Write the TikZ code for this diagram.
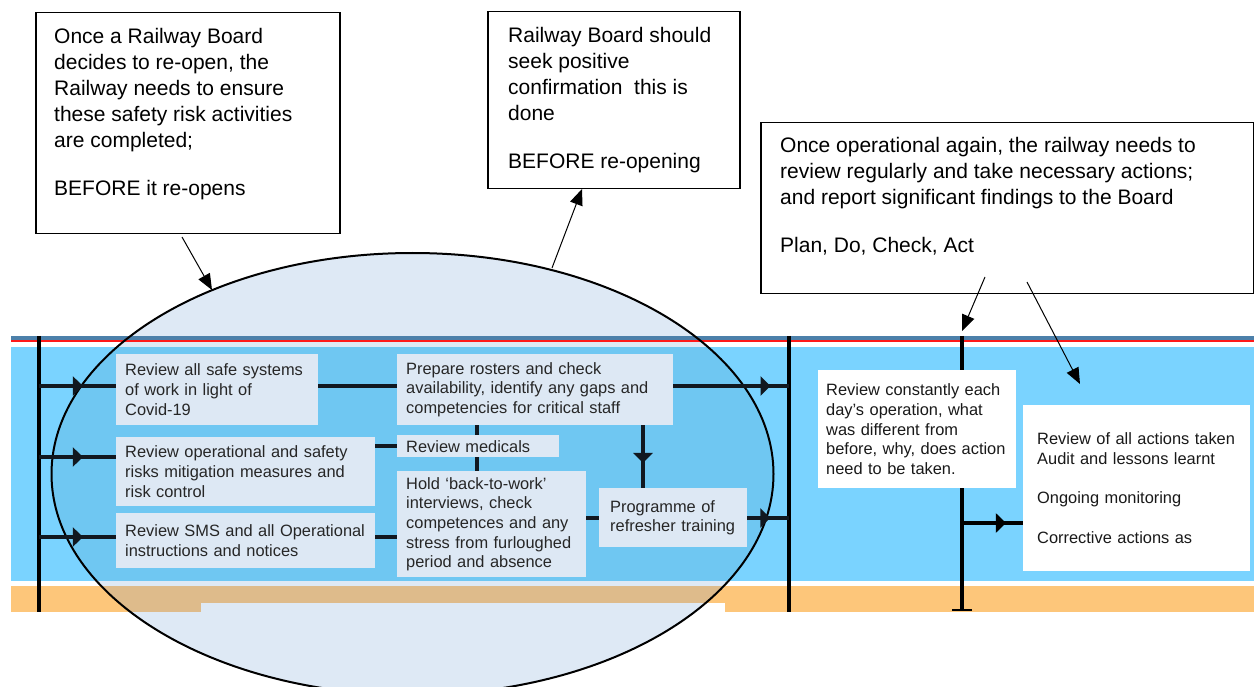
\documentclass[tikz,border=0pt]{standalone}
\usepackage{fontspec}
\setmainfont{Liberation Sans}
\usetikzlibrary{arrows.meta,decorations.markings,calc}

\definecolor{bandblue}{HTML}{7AD3FF}
\definecolor{bandblueov}{HTML}{6FC7F2}
\definecolor{bandorange}{HTML}{FDC67A}
\definecolor{bandorangeov}{HTML}{DEBB8B}
\definecolor{steel}{HTML}{4C80AA}
\definecolor{railred}{HTML}{FF1A1A}
\definecolor{zonefill}{HTML}{DEE9F5}
\definecolor{taskfill}{HTML}{DDE8F4}
\definecolor{inktext}{HTML}{262626}
\definecolor{wire}{HTML}{111820}

\pgfdeclarelayer{back}
\pgfdeclarelayer{wires}
\pgfsetlayers{back,wires,main}

\begin{document}
\begin{tikzpicture}[x=1pt,y=-1pt,
  task/.style={fill=taskfill, text=inktext, anchor=north west, align=left,
    inner xsep=9pt, inner ysep=0pt, font=\fontsize{16.4}{19.7}\selectfont},
  note/.style={fill=white, text=black!90, anchor=north west, align=left,
    inner ysep=0pt, font=\fontsize{16.4}{19.7}\selectfont},
  callout/.style={draw=black, line width=1.5pt, fill=white, anchor=north west, inner sep=0pt},
  callouttext/.style={anchor=north west, align=left, inner sep=0pt,
    font=\fontsize{21}{26}\selectfont},
  wirepath/.style={draw=wire, line width=3.6pt},
  railbar/.style={draw=black, line width=4pt},
  midarrow/.style={postaction={decorate}, decoration={markings,
    mark=at position #1 with {\arrow{Triangle[length=10pt,width=19pt]}}}},
  pointer/.style={draw=black, line width=1pt, -{Triangle[length=16pt,width=13pt]}},
]
\useasboundingbox (0,0) rectangle (1254,687);
\clip (0,0) rectangle (1254,687);

% ---------------- track band and the highlighted zone ----------------
\begin{pgfonlayer}{back}
  \fill[white] (0,0) rectangle (1254,687);
  \fill[bandblue] (11,347) rectangle (1254,581);
  \fill[bandorange] (11,586) rectangle (1254,612);
  \fill[white] (201,603) rectangle (725,612);
  \begin{scope}
    \clip (412.5,474) ellipse [x radius=361pt, y radius=221pt];
    \fill[zonefill] (0,0) rectangle (1254,687);
    \fill[bandblueov] (11,347) rectangle (1254,581);
    \fill[bandorangeov] (11,586) rectangle (1254,612);
    \fill[zonefill] (201,603) rectangle (725,612);
  \end{scope}
  \fill[steel] (11,336) rectangle (1254,340);
  \fill[railred] (11,340) rectangle (1254,342);
  \draw[line width=2pt] (412.5,474) ellipse [x radius=361pt, y radius=221pt];
\end{pgfonlayer}

% ---------------- rails (vertical bars) ----------------
\coordinate (Ltop) at (39,336);  \coordinate (Lbot) at (39,612);
\coordinate (Mtop) at (789,336); \coordinate (Mbot) at (789,612);
\coordinate (Rtop) at (962,336); \coordinate (Rbot) at (962,611);
\coordinate (L1) at (39,386); \coordinate (L2) at (39,457); \coordinate (L3) at (39,537);
\coordinate (M1) at (789,386); \coordinate (M2) at (789,518);
\coordinate (R1) at (962,523);

% ---------------- activity boxes ----------------
\node[task, text width=184pt, minimum height=71pt] (b1) at (116,354)
  {Review all safe systems\\of work in light of\\Covid-19};
\node[task, text width=241pt, minimum height=69pt] (b2) at (116,437)
  {Review operational and safety\\risks mitigation measures and\\risk control};
\node[task, text width=241pt, minimum height=55pt] (b3) at (116,513)
  {Review SMS and all Operational\\instructions and notices};
\node[task, text width=258pt, minimum height=71pt] (b4) at (397,354)
  {Prepare rosters and check\\availability, identify any gaps and\\competencies for critical staff};
\node[task, text width=144pt, minimum height=22pt] (b5) at (397,435)
  {Review medicals};
\node[task, text width=171pt, minimum height=106pt] (b6) at (397,471)
  {Hold ‘back-to-work’\\interviews, check\\competences and any\\stress from furloughed\\period and absence};
\node[task, inner xsep=11pt, text width=126pt, minimum height=59pt] (b7) at (599,488)
  {Programme of\\refresher training};

\node[note, inner xsep=8pt, text width=182pt, minimum height=118pt] (r1) at (818,370)
  {Review constantly each\\day’s operation, what\\was different from\\before, why, does action\\need to be taken.};
\node[note, inner xsep=14pt, text width=199pt, minimum height=166pt] (r2) at (1023,405)
  {Review of all actions taken\\Audit and lessons learnt\\[19.7pt]Ongoing monitoring\\[19.7pt]Corrective actions as};

% ---------------- connectors ----------------
\begin{pgfonlayer}{wires}
  \draw[railbar] (Ltop) -- (Lbot);
  \draw[railbar] (Mtop) -- (Mbot);
  \draw[railbar, -{Bar[width=20pt,line width=2pt]}] (Rtop) -- (Rbot);

  \draw[wirepath, midarrow=0.57] (L1) -- (L1 -| b1.west);
  \draw[wirepath, midarrow=0.57] (L2) -- (L2 -| b2.west);
  \draw[wirepath, midarrow=0.57] (L3) -- (L3 -| b3.west);
  \draw[wirepath] (b1.east |- L1) -- (b4.west |- L1);
  \draw[wirepath] (b2.east |- b5.west) -- (b5.west);
  \draw[wirepath] (b3.east |- L3) -- (b6.west |- L3);
  \draw[wirepath] ([xshift=80pt]b4.south west) -- ([xshift=80pt]b6.north west);
  \draw[wirepath, midarrow=0.6] ([xshift=246pt]b4.south west) -- ([xshift=246pt]b4.south west |- b7.north);
  \draw[wirepath] (b6.east |- b7.west) -- (b7.west);
  \draw[wirepath, midarrow=0.84] (b4.east |- M1) -- (M1);
  \draw[wirepath, midarrow=0.55] (b7.east |- M2) -- (M2);
  \draw[draw=black, line width=3.6pt, midarrow=0.72] (R1) -- (R1 -| r2.west);
\end{pgfonlayer}

% ---------------- callouts ----------------
\node[callout, minimum width=304pt, minimum height=221pt] (boxA) at (35,12) {};
\node[callouttext] (txtA) at (54,27.7)
  {Once a Railway Board\\decides to re-open, the\\Railway needs to ensure\\these safety risk activities\\are completed;\\[22pt]BEFORE it re-opens};

\node[callout, minimum width=252pt, minimum height=177pt] (boxB) at (487,11) {};
\node[callouttext] (txtB) at (508,26.7)
  {Railway Board should\\seek positive\\confirmation~ this is\\done\\[22pt]BEFORE re-opening};

\node[callout, minimum width=493pt, minimum height=171pt] (boxC) at (760,122) {};
\node[callouttext] (txtC) at (780,136.7)
  {Once operational again, the railway needs to\\review regularly and take necessary actions;\\and report significant findings to the Board\\[22pt]Plan, Do, Check, Act};

\coordinate (pA0) at (182,237); \coordinate (pA1) at (212,290);
\coordinate (pB0) at (552,268); \coordinate (pB1) at (582,189);
\coordinate (pC0) at (985,277); \coordinate (pC1) at (962,331);
\coordinate (pD0) at (1027,282); \coordinate (pD1) at (1080,384);
\draw[pointer] (pA0) -- (pA1);
\draw[pointer] (pB0) -- (pB1);
\draw[pointer] (pC0) -- (pC1);
\draw[pointer] (pD0) -- (pD1);
\end{tikzpicture}
\end{document}
